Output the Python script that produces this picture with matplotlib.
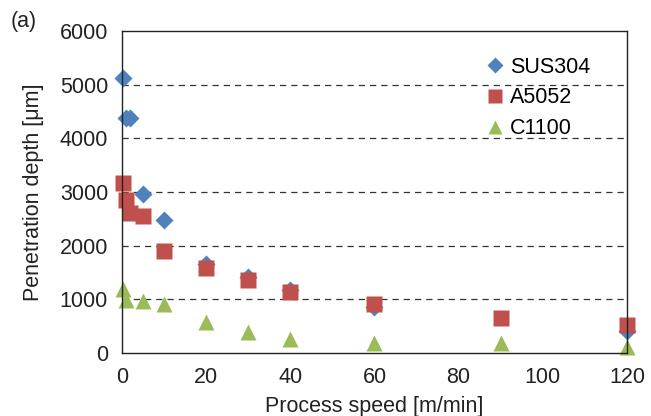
import matplotlib
matplotlib.use("Agg")
import matplotlib.pyplot as plt

plt.rcParams['font.family'] = ['Liberation Sans', 'DejaVu Sans']

# process speed [m/min] and penetration depth [um]
sus_x = [0.3, 1, 2, 5, 10, 20, 30, 40, 60, 120]
sus_y = [5120, 4380, 4380, 2970, 2470, 1650, 1420, 1180, 850, 410]
al_x = [0.3, 1, 2, 5, 10, 20, 30, 40, 60, 90, 120]
al_y = [3160, 2860, 2600, 2550, 1910, 1575, 1355, 1140, 920, 660, 525]
cu_x = [0.3, 1, 5, 10, 20, 30, 40, 60, 90, 120]
cu_y = [1190, 990, 970, 920, 570, 400, 260, 190, 190, 120]

blue, red, green = '#4F81BD', '#C0504D', '#9BBB59'
fs = 15.5

fig = plt.figure(figsize=(6.51, 4.16), dpi=100)
ax = fig.add_axes([0.1874, 0.1514, 0.7756, 0.7741])

ax.plot(sus_x, sus_y, 'D', color=blue, ms=9.5, mec='none', label='SUS304', clip_on=False)
ax.plot(al_x, al_y, 's', color=red, ms=11.5, mec='none', label='A5052', clip_on=False)
ax.plot(cu_x, cu_y, '^', color=green, ms=12, mec='none', label='C1100', clip_on=False)

ax.set_xlim(0, 120)
ax.set_ylim(0, 6000)
ax.set_xticks(range(0, 121, 20))
ax.set_yticks(range(0, 6001, 1000))
for v in range(1000, 6000, 1000):
    ax.axhline(v, color='#333333', lw=0.9, ls=(0, (5, 4)), zorder=0)
ax.tick_params(length=0, labelsize=fs, colors='#222222')
ax.tick_params(axis='y', pad=10)
ax.tick_params(axis='x', pad=10)
for s in ax.spines.values():
    s.set_color('#222222')
    s.set_linewidth(1.0)

ax.set_xlabel('Process speed [m/min]', fontsize=fs, color='#222222')
ax.xaxis.set_label_coords(0.5, -0.135)
ax.set_ylabel('Penetration depth [μm]', fontsize=fs, color='#222222', labelpad=11)
fig.text(0.017, 0.948, '(a)', fontsize=fs, color='#222222', va='center')

ax.legend(loc='upper right', bbox_to_anchor=(0.966, 0.98), frameon=False, fontsize=fs,
          handletextpad=0.1, handlelength=1.2, labelspacing=0.45, markerscale=0.85)

fig.savefig('out.png', dpi=100)
